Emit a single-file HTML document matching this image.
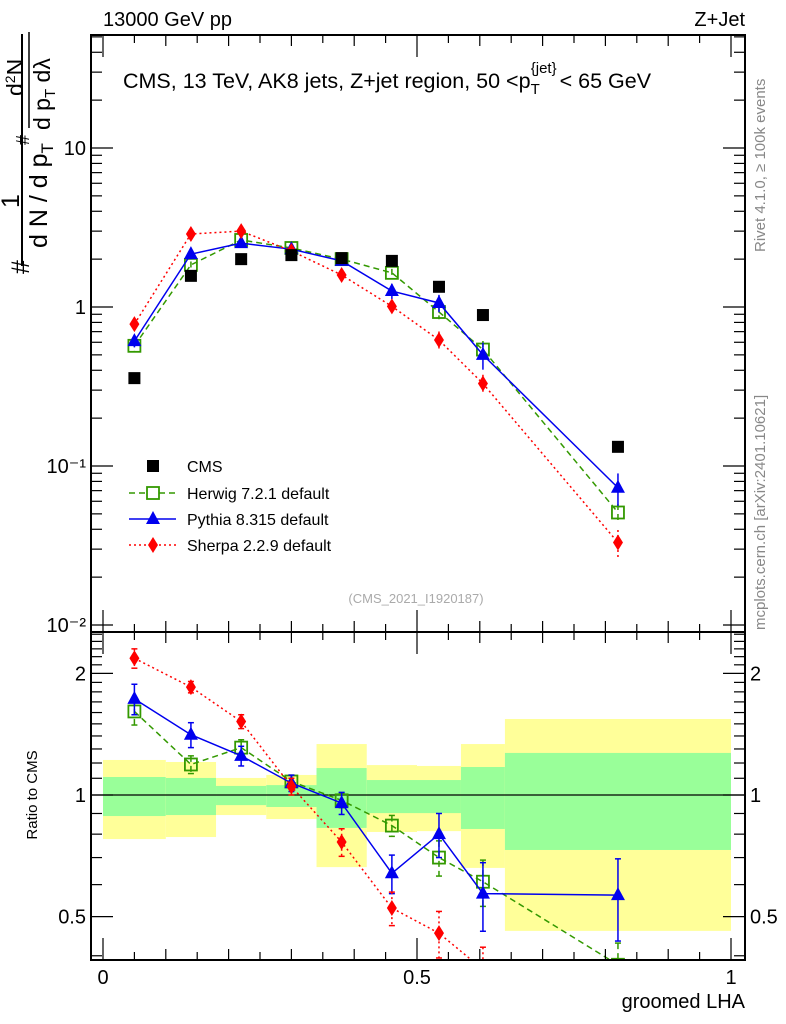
<!DOCTYPE html>
<html><head><meta charset="utf-8"><style>
html,body{margin:0;padding:0;background:#fff;overflow:hidden;width:786px;height:1024px}
svg{display:block;font-family:"Liberation Sans",sans-serif}
</style></head><body>
<svg id="c" width="786" height="1024" viewBox="0 0 786 1024" xmlns="http://www.w3.org/2000/svg">
<g id="bands"></g>
<g id="grid"></g>
<g id="series"></g>
<g id="frames"></g>
<g id="labels" font-size="20" fill="#000">
<text x="103" y="26">13000 GeV pp</text>
<text x="745" y="26" text-anchor="end">Z+Jet</text>
<text x="123" y="88" font-size="21.5">CMS, 13 TeV, AK8 jets, Z+jet region, 50 &lt;p<tspan font-size="15" dy="6">T</tspan><tspan font-size="15" dx="-9" dy="-21">{jet}</tspan><tspan dx="3" dy="15">&lt; 65 GeV</tspan></text>
<text x="416" y="603" font-size="13" fill="#aaa" text-anchor="middle">(CMS_2021_I1920187)</text>
<text transform="translate(765,252) rotate(-90)" font-size="15" fill="#888">Rivet 4.1.0, ≥ 100k events</text>
<text transform="translate(765,630) rotate(-90)" font-size="15" fill="#888">mcplots.cern.ch [arXiv:2401.10621]</text>
<text x="745" y="1008" text-anchor="end">groomed LHA</text>
<text transform="translate(37,795) rotate(-90)" font-size="15" text-anchor="middle">Ratio to CMS</text>
<g font-size="25">
<line x1="22" y1="34" x2="22" y2="266" stroke="#000" stroke-width="2"/>
<text transform="translate(29,274) rotate(-90)">#</text>
<text transform="translate(19,208) rotate(-90)">1</text>
<text transform="translate(47,248) rotate(-90)">d N / d p<tspan font-size="17" dy="6">T</tspan></text>
<text transform="translate(29,145) rotate(-90)" font-size="18">#</text>
<line x1="29" y1="32" x2="29" y2="128" stroke="#000" stroke-width="1.5"/>
<text transform="translate(23,96) rotate(-90)" font-size="23">d<tspan font-size="14" dy="-8">2</tspan><tspan dy="8">N</tspan></text>
<text transform="translate(50,130) rotate(-90)" font-size="23">d p<tspan font-size="15" dy="5">T</tspan><tspan dy="-5"> d</tspan>λ</text>
</g>
</g>
<g id="legend" font-size="16"></g>
</svg>
<script>
const NS="http://www.w3.org/2000/svg";
// ---- data ----
const binEdges=[0,0.1,0.18,0.26,0.34,0.42,0.5,0.57,0.64,1];
const binCenters=[0.05,0.14,0.22,0.3,0.38,0.46,0.535,0.605,0.82];
const cmsVals=[0.357,1.57,2.0,2.12,2.03,1.95,1.34,0.89,0.132];
const herwigVals=[0.57,1.84,2.64,2.35,2.0,1.64,0.93,0.54,0.051];
const pythiaVals=[0.61,2.15,2.52,2.31,1.95,1.26,1.06,0.5,0.073];
const sherpaVals=[0.78,2.88,3.0,2.25,1.59,1.01,0.62,0.33,0.033];
const herwigRatio=[1.61,1.19,1.31,1.08,0.97,0.84,0.70,0.61,0.38];
const pythiaRatio=[1.73,1.41,1.25,1.07,0.955,0.64,0.80,0.57,0.565];
const sherpaRatio=[2.18,1.85,1.52,1.05,0.765,0.525,0.455,0.37,0.25];
const herwigErr=[0.12,0.06,0.06,0.04,0.04,0.05,0.07,0.08,0.05];
const pythiaErr=[0.15,0.1,0.07,0.05,0.06,0.07,0.1,0.11,0.13];
const sherpaErr=[0.12,0.06,0.06,0.05,0.06,0.05,0.06,0.05,0.05];
const yellowHi=[1.221,1.207,1.102,1.121,1.337,1.186,1.180,1.337,1.542];
const greenHi=[1.108,1.102,1.053,1.058,1.166,1.089,1.089,1.173,1.271];
const greenLo=[0.887,0.892,0.944,0.934,0.829,0.902,0.902,0.824,0.731];
const yellowLo=[0.778,0.787,0.892,0.872,0.663,0.810,0.814,0.660,0.461];
const xTicks=[0,0.5,1];
const xTickLabels=["0","0.5","1"];
const mainTickLabels=["10\u207B\u00B2","10\u207B\u00B9","1","10"];
const ratioTicks=[0.5,1,2];
const ratioTickLabels=["0.5","1","2"];
// ---- axes ----
const L=91,R=745,T=35,MID=632,B=960;
const X=v=>103+v*628;
const Y=v=>307-Math.log10(v)*159;
const YR=v=>795-Math.log10(v)*404;
function el(tag,attrs,parent){const e=document.createElementNS(NS,tag);for(const k in attrs)e.setAttribute(k,attrs[k]);parent.appendChild(e);return e;}
const bands=document.getElementById('bands'),frames=document.getElementById('frames'),series=document.getElementById('series'),legend=document.getElementById('legend');
const defs=el('defs',{},document.getElementById('c'));
const cp1=el('clipPath',{id:'cm'},defs);el('rect',{x:L,y:T,width:R-L,height:MID-T},cp1);
const cp2=el('clipPath',{id:'cr'},defs);el('rect',{x:L,y:MID,width:R-L,height:B-MID},cp2);
for(let i=0;i<binCenters.length;i++){
  const x0=X(binEdges[i]),x1=X(binEdges[i+1]);
  const y=el('rect',{x:x0,y:YR(yellowHi[i]),width:x1-x0,height:YR(yellowLo[i])-YR(yellowHi[i]),fill:'#ffff99'},bands);
  
  
  const g=el('rect',{x:x0,y:YR(greenHi[i]),width:x1-x0,height:YR(greenLo[i])-YR(greenHi[i]),fill:'#99ff99'},bands);
  
  
}
el('line',{x1:L,x2:R,y1:YR(1),y2:YR(1),stroke:'#000','stroke-width':1.3},bands);
for(const [y0,y1] of [[T,MID],[MID,B]]){const f=el('rect',{x:L,y:y0,width:R-L,height:y1-y0,fill:'none',stroke:'#000','stroke-width':2},frames);}
for(let k=0;k<=20;k++){const v=k*0.05,major=(k%10==0),med=(k%2==0);const len=major?22:(med?11:8);
 for(const [yb,dir] of [[MID,-1],[T,1],[B,-1],[MID,1]]){el('line',{x1:X(v),x2:X(v),y1:yb,y2:yb+dir*len,stroke:'#000','stroke-width':1.2},frames);}}
xTicks.forEach((v,i)=>{const t=el('text',{x:X(v),y:984,'text-anchor':'middle','font-size':20},frames);t.textContent=xTickLabels[i];});
for(let d=-2;d<=1;d++){for(let m=1;m<=9;m++){const v=m*Math.pow(10,d);const y=Y(v);if(y<T||y>MID)continue;const len=m==1?22:11;
 el('line',{x1:L,x2:L+len,y1:y,y2:y,stroke:'#000','stroke-width':1.2},frames);el('line',{x1:R,x2:R-len,y1:y,y2:y,stroke:'#000','stroke-width':1.2},frames);}}
mainTickLabels.forEach((s,i)=>{const t=el('text',{x:86,y:Y(Math.pow(10,i-2))+7,'text-anchor':'end','font-size':20},frames);t.textContent=s;});
[0.4,0.5,0.6,0.7,0.8,0.9,1,1.1,1.2,1.3,1.4,1.5,1.6,1.7,1.8,1.9,2,2.1,2.2,2.3,2.4,2.5].forEach(v=>{const y=YR(v);if(y<MID||y>B)return;const len=(v==0.5||v==1||v==2)?22:11;
 el('line',{x1:L,x2:L+len,y1:y,y2:y,stroke:'#000','stroke-width':1.2},frames);el('line',{x1:R,x2:R-len,y1:y,y2:y,stroke:'#000','stroke-width':1.2},frames);});
ratioTicks.forEach((v,i)=>{for(const [x,a] of [[86,'end'],[750,'start']]){const t=el('text',{x:x,y:YR(v)+7,'text-anchor':a,'font-size':20},frames);t.textContent=ratioTickLabels[i];}});
function marker(type,x,y,color,parent){
 if(type=='sq')return el('rect',{x:x-6,y:y-6,width:12,height:12,fill:'#000'},parent);
 if(type=='osq')return el('rect',{x:x-6,y:y-6,width:12,height:12,fill:'none',stroke:color,'stroke-width':1.8},parent);
 if(type=='tri')return el('polygon',{points:`${x},${y-8} ${x-7},${y+5} ${x+7},${y+5}`,fill:color},parent);
 if(type=='dia')return el('polygon',{points:`${x},${y-8} ${x-5},${y} ${x},${y+8} ${x+5},${y}`,fill:color},parent);
}
const models=[
 {name:'herwig',vals:herwigVals,ratio:herwigRatio,err:herwigErr,color:'#339900',dash:'6,4',m:'osq'},
 {name:'pythia',vals:pythiaVals,ratio:pythiaRatio,err:pythiaErr,color:'#0000ee',dash:'',m:'tri'},
 {name:'sherpa',vals:sherpaVals,ratio:sherpaRatio,err:sherpaErr,color:'#ff0000',dash:'2,3',m:'dia'}];
models.forEach(md=>{
 const gm=el('g',{'clip-path':'url(#cm)'},series);
 
 
 const gr=el('g',{'clip-path':'url(#cr)'},series);
 
 
 const ptsM=binCenters.map((c,i)=>X(c)+','+Y(md.vals[i])).join(' ');
 const ptsR=binCenters.map((c,i)=>X(c)+','+YR(md.ratio[i])).join(' ');
 el('polyline',{points:ptsM,fill:'none',stroke:md.color,'stroke-width':1.5,'stroke-dasharray':md.dash},gm);
 el('polyline',{points:ptsR,fill:'none',stroke:md.color,'stroke-width':1.5,'stroke-dasharray':md.dash},gr);
 binCenters.forEach((c,i)=>{
  const rel=md.err[i]/md.ratio[i];const x=X(c);
  const v=md.vals[i];el('line',{x1:x,x2:x,y1:Y(v*(1+rel)),y2:Y(v*(1-rel)),stroke:md.color,'stroke-width':1.5,'stroke-dasharray':md.dash},gm);
  const r=md.ratio[i];el('line',{x1:x,x2:x,y1:YR(r+md.err[i]),y2:YR(r-md.err[i]),stroke:md.color,'stroke-width':1.5,'stroke-dasharray':md.dash},gr);
  for(const yy of [YR(r+md.err[i]),YR(r-md.err[i])])el('line',{x1:x-3,x2:x+3,y1:yy,y2:yy,stroke:md.color,'stroke-width':1.5},gr);
  const p=marker(md.m,x,Y(v),md.color,gm);
  const q=marker(md.m,x,YR(r),md.color,gr);
 });
});
binCenters.forEach((c,i)=>{const p=marker('sq',X(c),Y(cmsVals[i]),'#000',series);});
const legItems=[['CMS','sq','#000',''],['Herwig 7.2.1 default','osq','#339900','6,4'],['Pythia 8.315 default','tri','#0000ee',''],['Sherpa 2.2.9 default','dia','#ff0000','2,3']];
const legY=[466,493,519,545];
legItems.forEach((it,i)=>{const g=el('g',{},legend);
 
 
 if(i>0)el('line',{x1:129,x2:176,y1:legY[i],y2:legY[i],stroke:it[2],'stroke-width':1.5,'stroke-dasharray':it[3]},g);
 if(it[1]=='osq')el('rect',{x:147,y:legY[i]-6,width:12,height:12,fill:'#fff'},g);
 marker(it[1],153,legY[i],it[2],g);
 const t=el('text',{x:187,y:legY[i]+6},g);t.textContent=it[0];});
</script>
</body></html>
